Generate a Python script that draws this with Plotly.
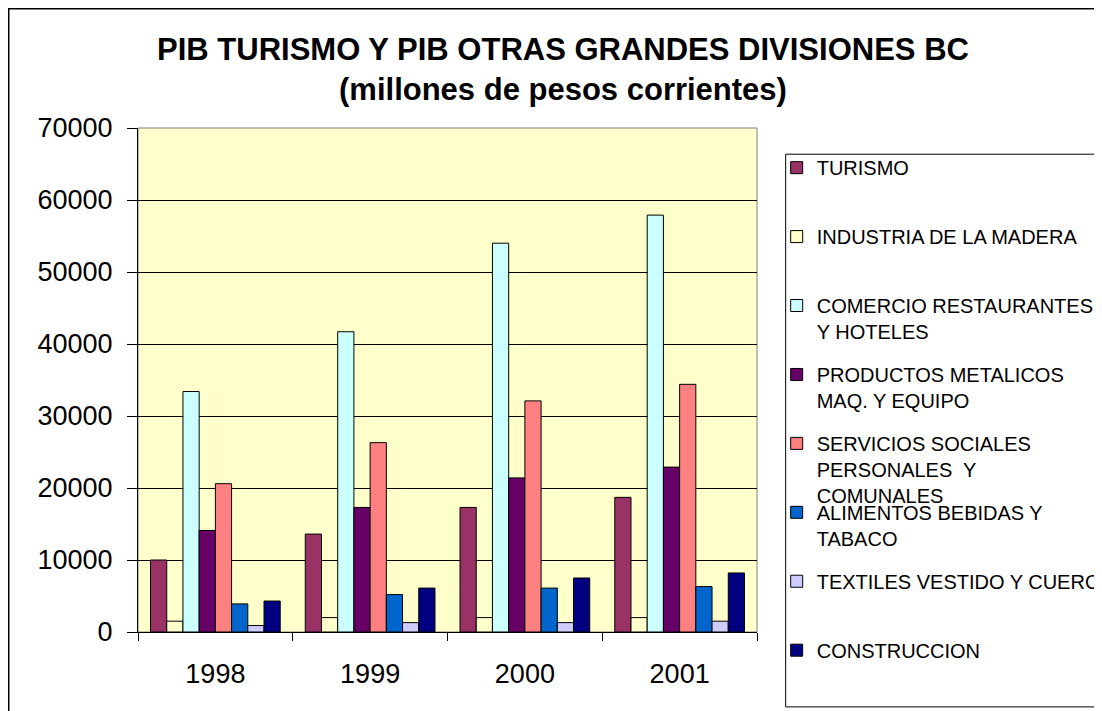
import plotly.graph_objects as go

anios = ["1998", "1999", "2000", "2001"]

series = [
    "TURISMO",
    "INDUSTRIA DE LA MADERA",
    "COMERCIO RESTAURANTES<br>Y HOTELES",
    "PRODUCTOS METALICOS<br>MAQ. Y EQUIPO",
    "SERVICIOS SOCIALES<br>PERSONALES  Y<br>COMUNALES",
    "ALIMENTOS BEBIDAS Y<br>TABACO",
    "TEXTILES VESTIDO Y CUERO",
    "CONSTRUCCION",
]

turismo = [10000, 13600, 17300, 18700]
madera = [1500, 2000, 2000, 2000]
comercio = [33400, 41700, 54000, 57900]
productos = [14100, 17300, 21400, 22900]
servicios = [20600, 26300, 32100, 34400]
alimentos = [3900, 5200, 6100, 6300]
textiles = [900, 1300, 1300, 1500]
construccion = [4300, 6100, 7500, 8200]

valores = [turismo, madera, comercio, productos, servicios, alimentos, textiles, construccion]
colores = ["#993366", "#FFFFCC", "#CCFFFF", "#660066", "#FF8080", "#0066CC", "#CCCCFF", "#000080"]

fuente = "Liberation Sans, Arial, sans-serif"

fig = go.Figure()

# una leyenda por serie para que queden espaciadas igual que en Excel
paso = 69 / 504.5
for i, (nombre, val, color) in enumerate(zip(series, valores, colores)):
    leg = "legend" if i == 0 else "legend%d" % (i + 1)
    fig.add_trace(go.Bar(name=nombre, x=anios, y=val, legend=leg,
                         marker=dict(color=color, line=dict(color="#000000", width=1))))
    fig.update_layout({leg: dict(x=1.0318, y=0.960 - i * paso, xanchor="left", yanchor="top",
                                 valign="top", bgcolor="rgba(0,0,0,0)", borderwidth=0,
                                 font=dict(family=fuente, size=20, color="black"))})

# la pagina deja 8px de margen, por eso 1094x703
fig.update_layout(
    width=1094, height=703,
    margin=dict(l=130, r=345, t=120, b=78.5, autoexpand=False),
    paper_bgcolor="white",
    plot_bgcolor="#FFFFCC",
    barmode="group",
    bargap=0.162,
    bargroupgap=0,
    title=dict(text="<b>PIB TURISMO Y PIB OTRAS GRANDES DIVISIONES BC<br>(millones de pesos corrientes)</b>",
               x=0.5073, xanchor="center", y=1 - 52 / 703, yanchor="top",
               font=dict(family=fuente, size=31, color="black")),
    font=dict(family=fuente, color="black"),
    showlegend=True,
)

fig.update_xaxes(type="category", showline=True, linecolor="black", linewidth=1,
                 ticks="outside", tickson="boundaries", ticklen=8, tickcolor="black",
                 tickfont=dict(size=27), ticklabelstandoff=18, showgrid=False)
fig.update_yaxes(range=[0, 70000], dtick=10000, tickformat="d", showline=True,
                 linecolor="black", linewidth=1,
                 ticks="outside", ticklen=10, tickcolor="black", tickfont=dict(size=27),
                 ticklabelstandoff=9, showgrid=True, gridcolor="black", gridwidth=1,
                 zeroline=True, zerolinecolor="black", zerolinewidth=1)

# borde gris del area de trazado
fig.add_shape(type="rect", xref="paper", yref="paper", x0=0, x1=1, y0=0, y1=1,
              line=dict(color="#808080", width=1), layer="below")
# borde del grafico completo
fig.add_shape(type="rect", xref="paper", yref="paper", x0=-0.2088, x1=1.7, y0=-0.3, y1=1.2364,
              line=dict(color="black", width=1.5))
# marco de la leyenda
fig.add_shape(type="rect", xref="paper", yref="paper", x0=1.0463, x1=1.7, y0=-0.1486, y1=0.948,
              line=dict(color="black", width=1))

fig.write_html("out.html")
